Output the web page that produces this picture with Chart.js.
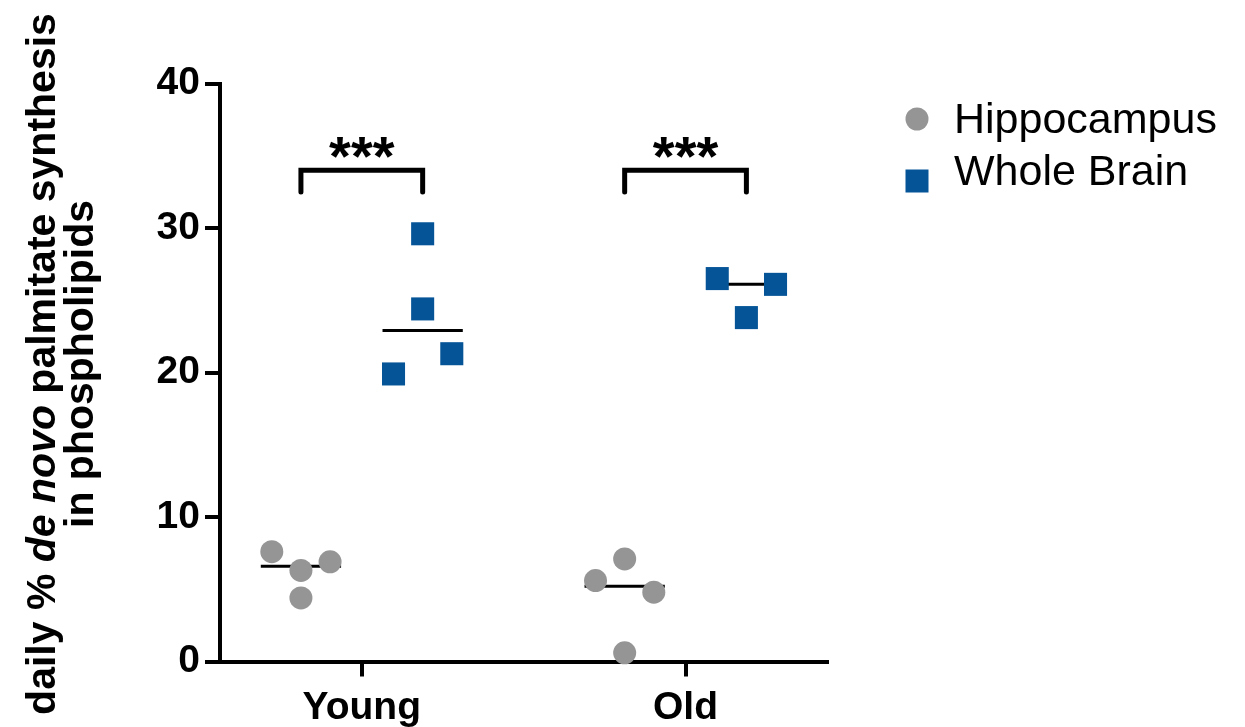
<!DOCTYPE html>
<html>
<head>
<meta charset="utf-8">
<script src="https://cdn.jsdelivr.net/npm/chart.js@4.4.0/dist/chart.umd.min.js"></script>
<style>
  html, body { margin: 0; padding: 0; background: #fff; }
  #wrap { width: 1245px; height: 727px; }
</style>
</head>
<body>
<div id="wrap"><canvas id="chart" width="1245" height="727"></canvas></div>
<script>
// groups on the x axis
const categories = ['Young', 'Old'];
const seriesNames = ['Hippocampus', 'Whole Brain'];

// individual values
const hippoYoung = [7.6, 6.3, 6.9, 4.4];
const hippoOld = [5.6, 7.1, 0.6, 4.8];
const brainYoung = [19.9, 29.6, 24.4, 21.3];
const brainOld = [26.5, 23.8, 26.1];

// which column of the scatter each dot sits in (-1 left, 0 middle, 1 right)
const hippoYoungCol = [-1, 0, 1, 0];
const hippoOldCol = [-1, 0, 0, 1];
const brainYoungCol = [-1, 0, 0, 1];
const brainOldCol = [-1, 0, 1];

// median bars (Young, Old)
const hippoMedian = [6.6, 5.2];
const brainMedian = [22.9, 26.1];

const yTicks = [0, 10, 20, 30, 40];

// significance brackets (Young, Old)
const bracketTop = [34, 34];
const bracketFoot = [32.5, 32.5];
const sigLevel = [35.6, 35.6];
const sigLabels = ['***', '***'];

const GRAY = '#959595';
const BLUE = '#045497';
const FONT = '"Liberation Sans", Arial, Helvetica, sans-serif';

const GROUP_SHIFT = 0.188;
const DOT_STEP = 0.09;
const MEDIAN_HALF = 0.124;

function dots(values, cols, catIndex, shift) {
  return values.map((v, i) => ({ x: catIndex + shift + cols[i] * DOT_STEP, y: v }));
}

function medianBar(value, catIndex, shift) {
  const c = catIndex + shift;
  return [{ x: c - MEDIAN_HALF, y: value }, { x: c + MEDIAN_HALF, y: value }];
}

function bracket(catIndex) {
  const l = catIndex - GROUP_SHIFT;
  const r = catIndex + GROUP_SHIFT;
  return [
    { x: l, y: bracketFoot[catIndex] },
    { x: l, y: bracketTop[catIndex] },
    { x: r, y: bracketTop[catIndex] },
    { x: r, y: bracketFoot[catIndex] },
  ];
}

const datasets = [
  {
    label: seriesNames[0],
    data: dots(hippoYoung, hippoYoungCol, 0, -GROUP_SHIFT)
      .concat(dots(hippoOld, hippoOldCol, 1, -GROUP_SHIFT)),
    pointStyle: 'circle',
    pointRadius: 11.5,
    pointBackgroundColor: GRAY,
    pointBorderWidth: 0,
    showLine: false,
    order: 1,
  },
  {
    label: seriesNames[1],
    data: dots(brainYoung, brainYoungCol, 0, GROUP_SHIFT)
      .concat(dots(brainOld, brainOldCol, 1, GROUP_SHIFT)),
    pointStyle: 'rect',
    pointRadius: 16.3,
    pointBackgroundColor: BLUE,
    pointBorderWidth: 0,
    showLine: false,
    order: 1,
  },
];

// median lines sit under the dots
categories.forEach((_, i) => {
  [[hippoMedian, -GROUP_SHIFT], [brainMedian, GROUP_SHIFT]].forEach(([med, shift]) => {
    datasets.push({
      label: 'median',
      data: medianBar(med[i], i, shift),
      showLine: true,
      borderColor: '#000',
      borderWidth: 3,
      pointRadius: 0,
      order: 2,
    });
  });
  datasets.push({
    label: 'bracket',
    data: bracket(i),
    showLine: true,
    borderColor: '#000',
    borderWidth: 5,
    borderCapStyle: 'round',
    borderJoinStyle: 'miter',
    pointRadius: 0,
    order: 2,
  });
});

// y axis title with "de novo" in italics
const titleLines = [
  [{ text: 'daily % ', italic: false }, { text: 'de novo', italic: true }, { text: ' palmitate synthesis', italic: false }],
  [{ text: 'in phospholipids', italic: false }],
];

const yTitlePlugin = {
  id: 'yTitle',
  afterDraw(chart) {
    const ctx = chart.ctx;
    const baselines = [55, 93];
    const cy = 364;
    titleLines.forEach((parts, li) => {
      ctx.save();
      ctx.translate(baselines[li], cy);
      ctx.rotate(-Math.PI / 2);
      ctx.fillStyle = '#000';
      ctx.textBaseline = 'alphabetic';
      ctx.textAlign = 'left';
      const fontOf = (p) => (p.italic ? 'italic ' : '') + 'bold 41px ' + FONT;
      let total = 0;
      parts.forEach((p) => {
        ctx.font = fontOf(p);
        total += ctx.measureText(p.text).width;
      });
      let x = -total / 2;
      parts.forEach((p) => {
        ctx.font = fontOf(p);
        ctx.fillText(p.text, x, 0);
        x += ctx.measureText(p.text).width;
      });
      ctx.restore();
    });
  },
};

// *** above each bracket
const sigPlugin = {
  id: 'sigStars',
  afterDatasetsDraw(chart) {
    const ctx = chart.ctx;
    const xs = chart.scales.x;
    const ys = chart.scales.y;
    ctx.save();
    ctx.font = 'bold 56px ' + FONT;
    ctx.fillStyle = '#000';
    ctx.textAlign = 'center';
    ctx.textBaseline = 'alphabetic';
    sigLabels.forEach((s, i) => {
      const m = ctx.measureText(s);
      const yc = ys.getPixelForValue(sigLevel[i]);
      const y = yc + (m.actualBoundingBoxAscent - m.actualBoundingBoxDescent) / 2;
      ctx.fillText(s, xs.getPixelForValue(i), y);
    });
    ctx.restore();
  },
};

// legend to the right of the plot
const legendPlugin = {
  id: 'sideLegend',
  afterDraw(chart) {
    const ctx = chart.ctx;
    const rows = [
      { name: seriesNames[0], color: GRAY, shape: 'circle', cy: 119, base: 133 },
      { name: seriesNames[1], color: BLUE, shape: 'rect', cy: 181, base: 185 },
    ];
    ctx.save();
    rows.forEach((r) => {
      ctx.fillStyle = r.color;
      if (r.shape === 'circle') {
        ctx.beginPath();
        ctx.arc(917, r.cy, 11.5, 0, Math.PI * 2);
        ctx.fill();
      } else {
        ctx.fillRect(917 - 11.5, r.cy - 11.5, 23, 23);
      }
      ctx.fillStyle = '#000';
      ctx.font = '43px ' + FONT;
      ctx.textAlign = 'left';
      ctx.textBaseline = 'alphabetic';
      ctx.fillText(r.name, 954, r.base);
    });
    ctx.restore();
  },
};

new Chart(document.getElementById('chart'), {
  type: 'scatter',
  data: { datasets },
  plugins: [yTitlePlugin, sigPlugin, legendPlugin],
  options: {
    responsive: false,
    animation: false,
    devicePixelRatio: 1,
    layout: {
      padding: { left: 0, right: 418, top: 83.5, bottom: 0 },
    },
    elements: { point: { hoverRadius: 0 } },
    datasets: { scatter: { clip: false } },
    plugins: {
      legend: { display: false },
      tooltip: { enabled: false },
    },
    scales: {
      x: {
        type: 'linear',
        min: -0.438,
        max: 1.437,
        afterBuildTicks: (scale) => {
          scale.ticks = categories.map((_, i) => ({ value: i }));
        },
        afterFit: (scale) => {
          scale.height = 65.5;
        },
        ticks: {
          autoSkip: false,
          maxRotation: 0,
          padding: 8,
          color: '#000',
          font: { family: FONT, size: 39, weight: 'bold' },
          callback: (v) => categories[v] ?? '',
        },
        grid: {
          drawOnChartArea: false,
          drawTicks: true,
          tickLength: 15,
          lineWidth: 4,
          color: '#000',
        },
        border: { display: true, width: 4, color: '#000' },
      },
      y: {
        type: 'linear',
        min: 0,
        max: 40,
        afterBuildTicks: (scale) => {
          scale.ticks = yTicks.map((v) => ({ value: v }));
        },
        afterFit: (scale) => {
          scale.width = 220;
        },
        ticks: {
          padding: 5,
          color: '#000',
          font: { family: FONT, size: 39, weight: 'bold' },
        },
        grid: {
          drawOnChartArea: false,
          drawTicks: true,
          tickLength: 15,
          lineWidth: 4,
          color: '#000',
        },
        border: { display: true, width: 4, color: '#000' },
      },
    },
  },
});
</script>
</body>
</html>
